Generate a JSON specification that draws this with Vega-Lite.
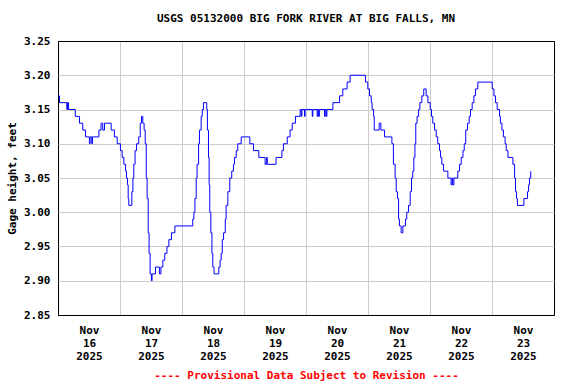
{
"$schema": "https://vega.github.io/schema/vega-lite/v6.json",
"width": 496, "height": 274,
"autosize": "none",
"padding": {"left": 58, "top": 41, "right": 22, "bottom": 69},
"background": "white",
"title": {"text": "USGS 05132000 BIG FORK RIVER AT BIG FALLS, MN", "font": "DejaVu Sans Mono", "fontSize": 11, "fontWeight": "bold", "anchor": "middle", "offset": 11, "color": "black"},
"config": {"view": {"stroke": "black", "strokeWidth": 1}, "font": "DejaVu Sans Mono"},
"data": {"values": [
{"t":"2025-11-16T00:00","v":3.17},{"t":"2025-11-16T00:35","v":3.16},{"t":"2025-11-16T03:25","v":3.15},{"t":"2025-11-16T03:40","v":3.16},{"t":"2025-11-16T04:05","v":3.15},{"t":"2025-11-16T06:40","v":3.14},{"t":"2025-11-16T08:20","v":3.13},{"t":"2025-11-16T09:35","v":3.12},{"t":"2025-11-16T10:40","v":3.11},{"t":"2025-11-16T12:10","v":3.10},{"t":"2025-11-16T12:25","v":3.11},{"t":"2025-11-16T13:05","v":3.10},{"t":"2025-11-16T13:20","v":3.11},{"t":"2025-11-16T15:50","v":3.12},{"t":"2025-11-16T16:40","v":3.13},{"t":"2025-11-16T17:20","v":3.12},{"t":"2025-11-16T18:00","v":3.13},{"t":"2025-11-16T20:35","v":3.12},{"t":"2025-11-16T21:50","v":3.11},{"t":"2025-11-16T22:55","v":3.10},
{"t":"2025-11-17T00:10","v":3.09},{"t":"2025-11-17T00:50","v":3.08},{"t":"2025-11-17T01:30","v":3.07},{"t":"2025-11-17T02:10","v":3.06},{"t":"2025-11-17T02:30","v":3.05},{"t":"2025-11-17T02:55","v":3.04},{"t":"2025-11-17T03:10","v":3.02},{"t":"2025-11-17T03:25","v":3.01},{"t":"2025-11-17T04:35","v":3.03},{"t":"2025-11-17T05:00","v":3.05},{"t":"2025-11-17T05:20","v":3.07},{"t":"2025-11-17T05:50","v":3.09},{"t":"2025-11-17T06:25","v":3.10},{"t":"2025-11-17T07:15","v":3.11},{"t":"2025-11-17T07:50","v":3.13},{"t":"2025-11-17T08:20","v":3.14},{"t":"2025-11-17T08:50","v":3.13},{"t":"2025-11-17T09:20","v":3.12},{"t":"2025-11-17T09:45","v":3.10},{"t":"2025-11-17T10:10","v":3.05},{"t":"2025-11-17T10:30","v":3.02},{"t":"2025-11-17T10:55","v":2.97},{"t":"2025-11-17T11:15","v":2.94},{"t":"2025-11-17T11:40","v":2.91},{"t":"2025-11-17T12:10","v":2.90},{"t":"2025-11-17T12:25","v":2.91},{"t":"2025-11-17T13:45","v":2.92},{"t":"2025-11-17T15:15","v":2.91},{"t":"2025-11-17T15:50","v":2.92},{"t":"2025-11-17T16:35","v":2.93},{"t":"2025-11-17T17:20","v":2.94},{"t":"2025-11-17T18:10","v":2.95},{"t":"2025-11-17T18:55","v":2.96},{"t":"2025-11-17T19:55","v":2.97},{"t":"2025-11-17T21:15","v":2.98},
{"t":"2025-11-18T04:10","v":2.99},{"t":"2025-11-18T04:35","v":3.00},{"t":"2025-11-18T05:00","v":3.02},{"t":"2025-11-18T05:30","v":3.05},{"t":"2025-11-18T05:50","v":3.07},{"t":"2025-11-18T06:25","v":3.10},{"t":"2025-11-18T06:45","v":3.12},{"t":"2025-11-18T07:25","v":3.14},{"t":"2025-11-18T07:50","v":3.15},{"t":"2025-11-18T08:20","v":3.16},{"t":"2025-11-18T09:35","v":3.15},{"t":"2025-11-18T09:50","v":3.12},{"t":"2025-11-18T10:15","v":3.08},{"t":"2025-11-18T10:30","v":3.04},{"t":"2025-11-18T10:45","v":3.00},{"t":"2025-11-18T11:10","v":2.97},{"t":"2025-11-18T11:35","v":2.94},{"t":"2025-11-18T11:55","v":2.92},{"t":"2025-11-18T12:25","v":2.91},{"t":"2025-11-18T14:15","v":2.92},{"t":"2025-11-18T14:45","v":2.93},{"t":"2025-11-18T15:10","v":2.94},{"t":"2025-11-18T15:35","v":2.96},{"t":"2025-11-18T16:05","v":2.97},{"t":"2025-11-18T16:45","v":2.99},{"t":"2025-11-18T17:05","v":3.01},{"t":"2025-11-18T17:45","v":3.03},{"t":"2025-11-18T18:30","v":3.05},{"t":"2025-11-18T19:15","v":3.06},{"t":"2025-11-18T19:55","v":3.07},{"t":"2025-11-18T20:20","v":3.08},{"t":"2025-11-18T21:00","v":3.09},{"t":"2025-11-18T21:35","v":3.10},{"t":"2025-11-18T22:55","v":3.11},
{"t":"2025-11-19T02:15","v":3.10},{"t":"2025-11-19T03:40","v":3.09},{"t":"2025-11-19T05:45","v":3.08},{"t":"2025-11-19T08:10","v":3.07},{"t":"2025-11-19T08:45","v":3.08},{"t":"2025-11-19T09:00","v":3.07},{"t":"2025-11-19T12:25","v":3.08},{"t":"2025-11-19T14:40","v":3.09},{"t":"2025-11-19T15:15","v":3.10},{"t":"2025-11-19T16:45","v":3.11},{"t":"2025-11-19T17:50","v":3.12},{"t":"2025-11-19T18:40","v":3.13},{"t":"2025-11-19T19:55","v":3.14},{"t":"2025-11-19T21:45","v":3.15},{"t":"2025-11-19T22:10","v":3.14},{"t":"2025-11-19T22:25","v":3.15},{"t":"2025-11-19T23:25","v":3.14},{"t":"2025-11-19T23:40","v":3.15},
{"t":"2025-11-20T02:25","v":3.14},{"t":"2025-11-20T02:40","v":3.15},{"t":"2025-11-20T04:20","v":3.14},{"t":"2025-11-20T04:35","v":3.15},{"t":"2025-11-20T04:55","v":3.14},{"t":"2025-11-20T05:10","v":3.15},{"t":"2025-11-20T07:10","v":3.14},{"t":"2025-11-20T07:25","v":3.15},{"t":"2025-11-20T07:50","v":3.14},{"t":"2025-11-20T08:05","v":3.15},{"t":"2025-11-20T10:25","v":3.16},{"t":"2025-11-20T13:00","v":3.17},{"t":"2025-11-20T14:15","v":3.18},{"t":"2025-11-20T15:55","v":3.19},{"t":"2025-11-20T17:05","v":3.20},{"t":"2025-11-20T23:00","v":3.19},{"t":"2025-11-20T23:55","v":3.18},
{"t":"2025-11-21T00:35","v":3.17},{"t":"2025-11-21T01:15","v":3.16},{"t":"2025-11-21T01:35","v":3.15},{"t":"2025-11-21T02:10","v":3.14},{"t":"2025-11-21T02:25","v":3.12},{"t":"2025-11-21T04:20","v":3.13},{"t":"2025-11-21T05:00","v":3.12},{"t":"2025-11-21T06:25","v":3.11},{"t":"2025-11-21T09:15","v":3.10},{"t":"2025-11-21T09:50","v":3.07},{"t":"2025-11-21T10:30","v":3.05},{"t":"2025-11-21T10:55","v":3.03},{"t":"2025-11-21T11:25","v":3.02},{"t":"2025-11-21T11:50","v":2.99},{"t":"2025-11-21T12:10","v":2.98},{"t":"2025-11-21T12:50","v":2.97},{"t":"2025-11-21T13:30","v":2.98},{"t":"2025-11-21T14:30","v":2.99},{"t":"2025-11-21T15:00","v":3.00},{"t":"2025-11-21T15:40","v":3.01},{"t":"2025-11-21T16:20","v":3.03},{"t":"2025-11-21T16:50","v":3.05},{"t":"2025-11-21T17:20","v":3.06},{"t":"2025-11-21T17:45","v":3.08},{"t":"2025-11-21T18:10","v":3.10},{"t":"2025-11-21T18:30","v":3.13},{"t":"2025-11-21T19:00","v":3.14},{"t":"2025-11-21T19:35","v":3.15},{"t":"2025-11-21T20:05","v":3.16},{"t":"2025-11-21T20:50","v":3.17},{"t":"2025-11-21T21:35","v":3.18},{"t":"2025-11-21T22:30","v":3.17},{"t":"2025-11-21T23:10","v":3.16},
{"t":"2025-11-22T00:05","v":3.15},{"t":"2025-11-22T00:35","v":3.14},{"t":"2025-11-22T01:05","v":3.13},{"t":"2025-11-22T01:45","v":3.12},{"t":"2025-11-22T02:25","v":3.11},{"t":"2025-11-22T03:00","v":3.10},{"t":"2025-11-22T03:40","v":3.09},{"t":"2025-11-22T04:05","v":3.08},{"t":"2025-11-22T04:35","v":3.07},{"t":"2025-11-22T05:15","v":3.06},{"t":"2025-11-22T06:55","v":3.05},{"t":"2025-11-22T08:10","v":3.04},{"t":"2025-11-22T08:35","v":3.05},{"t":"2025-11-22T08:50","v":3.04},{"t":"2025-11-22T09:15","v":3.05},{"t":"2025-11-22T10:45","v":3.06},{"t":"2025-11-22T11:25","v":3.07},{"t":"2025-11-22T12:05","v":3.08},{"t":"2025-11-22T12:45","v":3.09},{"t":"2025-11-22T13:15","v":3.10},{"t":"2025-11-22T13:50","v":3.12},{"t":"2025-11-22T14:30","v":3.13},{"t":"2025-11-22T15:10","v":3.14},{"t":"2025-11-22T15:40","v":3.15},{"t":"2025-11-22T16:20","v":3.16},{"t":"2025-11-22T17:00","v":3.17},{"t":"2025-11-22T17:35","v":3.18},{"t":"2025-11-22T18:30","v":3.19},
{"t":"2025-11-23T00:05","v":3.18},{"t":"2025-11-23T00:45","v":3.17},{"t":"2025-11-23T01:20","v":3.16},{"t":"2025-11-23T02:00","v":3.15},{"t":"2025-11-23T02:55","v":3.14},{"t":"2025-11-23T03:15","v":3.13},{"t":"2025-11-23T03:50","v":3.12},{"t":"2025-11-23T04:25","v":3.11},{"t":"2025-11-23T05:05","v":3.10},{"t":"2025-11-23T05:30","v":3.09},{"t":"2025-11-23T06:10","v":3.08},{"t":"2025-11-23T08:05","v":3.07},{"t":"2025-11-23T08:45","v":3.05},{"t":"2025-11-23T09:05","v":3.03},{"t":"2025-11-23T09:30","v":3.02},{"t":"2025-11-23T09:50","v":3.01},{"t":"2025-11-23T12:20","v":3.02},{"t":"2025-11-23T13:45","v":3.03},{"t":"2025-11-23T14:10","v":3.04},{"t":"2025-11-23T14:30","v":3.05},{"t":"2025-11-23T15:00","v":3.06}
]},
"mark": {"type": "line", "interpolate": "step-after", "color": "#0000ff", "strokeWidth": 1},
"encoding": {
"x": {"field": "t", "type": "temporal",
 "scale": {"domain": [{"year": 2025, "month": 11, "date": 16}, {"year": 2025, "month": 11, "date": 24}]},
 "axis": {
  "values": [{"year": 2025, "month": 11, "date": 16}, {"year": 2025, "month": 11, "date": 17}, {"year": 2025, "month": 11, "date": 18}, {"year": 2025, "month": 11, "date": 19}, {"year": 2025, "month": 11, "date": 20}, {"year": 2025, "month": 11, "date": 21}, {"year": 2025, "month": 11, "date": 22}, {"year": 2025, "month": 11, "date": 23}],
  "labelExpr": "[timeFormat(datum.value, '%b'), timeFormat(datum.value, '%d'), timeFormat(datum.value, '%Y')]",
  "labelOffset": 31, "labelFlush": false, "labelOverlap": false, "labelBound": false,
  "ticks": false, "domain": false, "grid": true, "gridOpacity": 1, "gridWidth": 1,
  "gridColor": {"condition": {"test": "date(datum.value) == 16", "value": "black"}, "value": "#cccccc"},
  "labelFont": "DejaVu Sans Mono", "labelFontSize": 11, "labelFontWeight": "bold", "labelColor": "black", "labelLineHeight": 13, "labelPadding": 9,
  "title": "---- Provisional Data Subject to Revision ----", "titleColor": "#ff0000", "titleFont": "DejaVu Sans Mono", "titleFontSize": 11, "titleFontWeight": "bold", "titlePadding": 8
 }},
"y": {"field": "v", "type": "quantitative",
 "scale": {"domain": [2.85, 3.25], "zero": false, "nice": false},
 "axis": {
  "values": [2.85, 2.9, 2.95, 3.0, 3.05, 3.1, 3.15, 3.2, 3.25], "format": ".2f",
  "ticks": false, "domain": false, "grid": true, "gridOpacity": 1, "gridWidth": 1,
  "gridColor": {"condition": {"test": "datum.value < 2.86 || datum.value > 3.24", "value": "black"}, "value": "#cccccc"},
  "labelFont": "DejaVu Sans Mono", "labelFontSize": 11, "labelFontWeight": "bold", "labelColor": "black", "labelPadding": 8,
  "title": "Gage height, feet", "titleColor": "black", "titleFont": "DejaVu Sans Mono", "titleFontSize": 11, "titleFontWeight": "bold", "titlePadding": 6
 }}
}
}
